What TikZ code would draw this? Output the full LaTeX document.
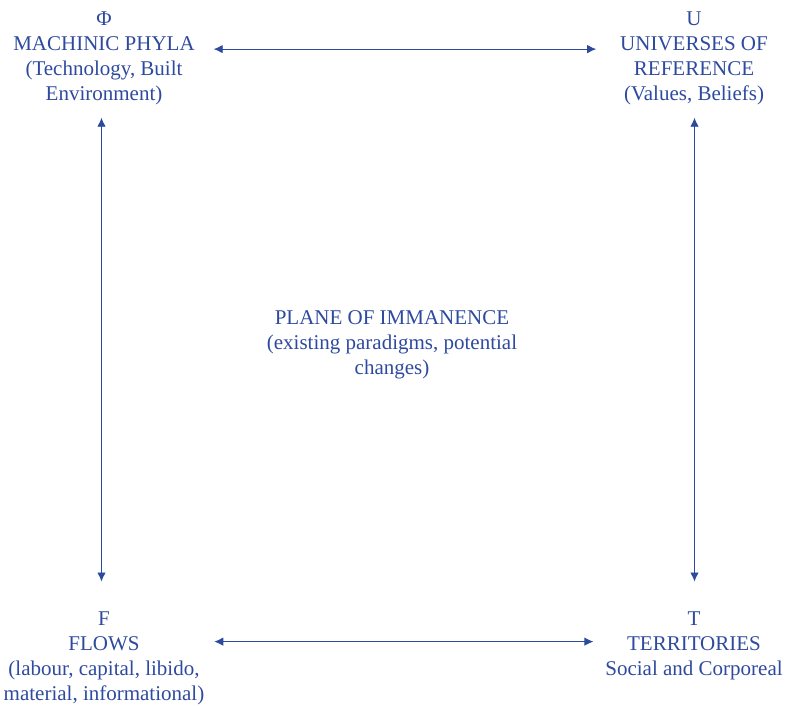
\documentclass[tikz,border=0pt]{standalone}
\usepackage{fontspec}
\setmainfont{Liberation Serif}
\usetikzlibrary{arrows.meta}
\definecolor{ink}{RGB}{46,74,158}
\begin{document}
\begin{tikzpicture}[x=1pt,y=-1pt]
\tikzset{ >={Latex[length=9pt,width=8.5pt]}, inner sep=0pt, outer sep=0pt,
  txt/.style={align=center, text=ink, font=\fontsize{21}{25}\selectfont, anchor=north},
  link/.style={<->, draw=ink, line width=0.9pt} }
\useasboundingbox (0,0) rectangle (792,705);

\node [txt] (PH) at (104,11.5) {Φ\\MACHINIC PHYLA\\(Technology, Built\\Environment)};
\node [txt] (UR) at (694,11.5) {U\\UNIVERSES OF\\REFERENCE\\(Values, Beliefs)};
\node [txt] (FL) at (104,611.5) {F\\FLOWS\\(labour, capital, libido,\\material, informational)};
\node [txt] (TR) at (694,611.5) {T\\TERRITORIES\\Social and Corporeal};
\node [txt] (PI) at (392,311) {PLANE OF IMMANENCE\\(existing paradigms, potential\\changes)};

\draw [link, shorten <=19pt, shorten >=24pt] ([yshift=9pt]PH.east) -- ([yshift=9pt]UR.west);
\draw [link, shorten <=10pt, shorten >=12pt] ([yshift=4pt]FL.east |- TR.west) -- ([yshift=4pt]TR.west);

\draw [link, shorten <=13pt, shorten >=30pt] ([xshift=-2.5pt]PH.south) -- ([xshift=-2.5pt]PH.south |- FL.north);
\draw [link, shorten <=13pt, shorten >=30pt] ([xshift=0.5pt]UR.south) -- ([xshift=0.5pt]UR.south |- TR.north);

\end{tikzpicture}
\end{document}
